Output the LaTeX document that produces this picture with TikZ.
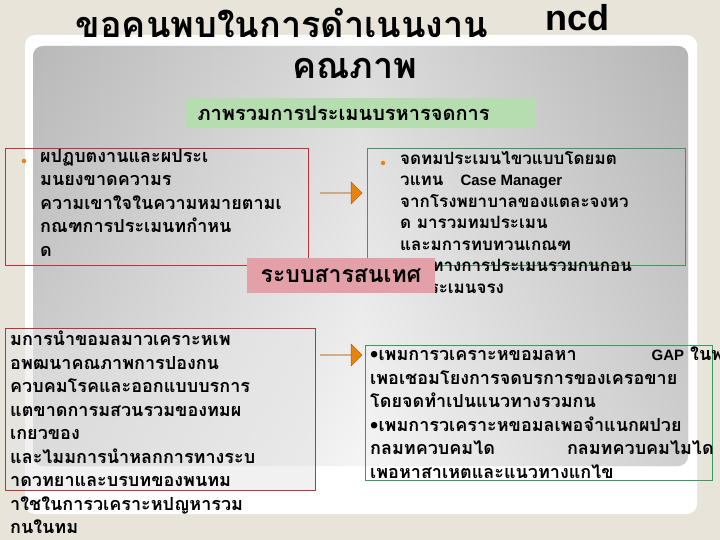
\documentclass[tikz,border=0pt]{standalone}
\usepackage{fontspec}
\usetikzlibrary{shapes.arrows}
\setmainfont{Liberation Sans}
\newfontfamily\thf[Script=Thai]{Loma}
\definecolor{bgc}{HTML}{E8E4DA}
\definecolor{gbox}{HTML}{B5DDB0}
\definecolor{pbox}{HTML}{E3A0A8}
\definecolor{redl}{HTML}{C0303A}
\definecolor{grnl}{HTML}{3A9A5A}
\definecolor{orng}{HTML}{E8830E}
\begin{document}
\begin{tikzpicture}[x=1pt,y=-1pt,
  txt/.style={font=\thf\bfseries\fontsize{18}{23.5}\selectfont,align=left,inner sep=0pt},
  rbox/.style={draw=redl,line width=0.6pt},
  gbx/.style={draw=grnl,line width=0.6pt},
  arr/.style={single arrow,draw=orng!70!black,fill=orng,minimum height=42pt,minimum width=22pt,single arrow head extend=9pt,inner sep=0pt}]
\fill[bgc] (0,0) rectangle (720,540);
\useasboundingbox (0,0) rectangle (720,540);
\fill[white,rounded corners=10pt] (25,35) rectangle (697,514);
\shade[left color=gray!70,right color=gray!75,middle color=gray!15,rounded corners=10pt] (33,46) rectangle (688,466);
\shade[top color=gray!40,bottom color=white,opacity=0.5,rounded corners=10pt] (33,46) rectangle (688,466);
\node[font=\thf\bfseries\fontsize{36}{38}\selectfont,anchor=base] (t1) at (282,38) {ขอคนพบในการดำเนนงาน};
\node[font=\bfseries\fontsize{36}{38}\selectfont,anchor=base] (t2) at (577,31) {ncd};
\node[font=\thf\bfseries\fontsize{36}{38}\selectfont,anchor=base] (t3) at (355,79) {คณภาพ};
\node[fill=gbox,minimum width=349pt,minimum height=30pt,anchor=north west] (g) at (186,98) {};
\node[font=\thf\bfseries\fontsize{20}{21}\selectfont,anchor=west] (gt) at (194,113) {ภาพรวมการประเมนบรหารจดการ};
\node[rbox,minimum width=303pt,minimum height=117pt,anchor=north west] (b1) at (5,148) {};
\node[circle,fill=orng,inner sep=1.6pt] (d1) at (24,161) {};
\node[txt,anchor=north west] (b1t) at (40,149) {ผปฏบตงานและผประเ\\มนยงขาดความร\\ความเขาใจในความหมายตามเ\\กณฑการประเมนทกำหน\\ด};
\node[arr] (a1) at (341,193) {};
\node[gbx,minimum width=318pt,minimum height=117pt,anchor=north west] (b2) at (367,148) {};
\node[circle,fill=orng,inner sep=1.6pt] (d2) at (383,163) {};
\node[txt,anchor=north west,font=\thf\bfseries\fontsize{17}{21.5}\selectfont] (b2t) at (400,151) {จดทมประเมนไขวแบบโดยมต\\วแทน\quad {\fontspec{Liberation Sans}\bfseries\fontsize{15}{21.5}\selectfont Case Manager}\\จากโรงพยาบาลของแตละจงหว\\ด มารวมทมประเมน\\และมการทบทวนเกณฑ\\แนวทางการประเมนรวมกนกอน\\\phantom{ลงป}ระเมนจรง};
\node[fill=pbox,minimum width=188pt,minimum height=35pt,anchor=north west] (p) at (247,258) {};
\node[font=\thf\bfseries\fontsize{23}{24}\selectfont] (pt) at (341,276) {ระบบสารสนเทศ};
\node[fill=gray!20,fill opacity=0.5,rbox,minimum width=310pt,minimum height=162pt,anchor=north west] (b3) at (5,328) {};
\node[txt,anchor=north west] (b3t) at (10,331) {มการนำขอมลมาวเคราะหเพ\\อพฒนาคณภาพการปองกน\\ควบคมโรคและออกแบบบรการ\\แตขาดการมสวนรวมของทมผ\\เกยวของ\\และไมมการนำหลกการทางระบ\\าดวทยาและบรบทของพนทม\\าใชในการวเคราะหปญหารวม\\กนในทม};
\node[arr] (a2) at (341,355) {};
\node[gbx,minimum width=347pt,minimum height=135pt,anchor=north west] (b4) at (365,345) {};
\begin{scope}
\clip (0,0) rectangle (720,540);
\node[txt,anchor=north west] (b4t) at (370,347) {•เพมการวเคราะหขอมลหา\hspace{75pt}{\fontspec{Liberation Sans}\bfseries\fontsize{15}{23.5}\selectfont GAP} ในพ\\เพอเชอมโยงการจดบรการของเครอขาย\\โดยจดทำเปนแนวทางรวมกน\\•เพมการวเคราะหขอมลเพอจำแนกผปวย\\กลมทควบคมได\hspace{72pt}กลมทควบคมไมได\\เพอหาสาเหตและแนวทางแกไข};
\end{scope}
\end{tikzpicture}
\end{document}
